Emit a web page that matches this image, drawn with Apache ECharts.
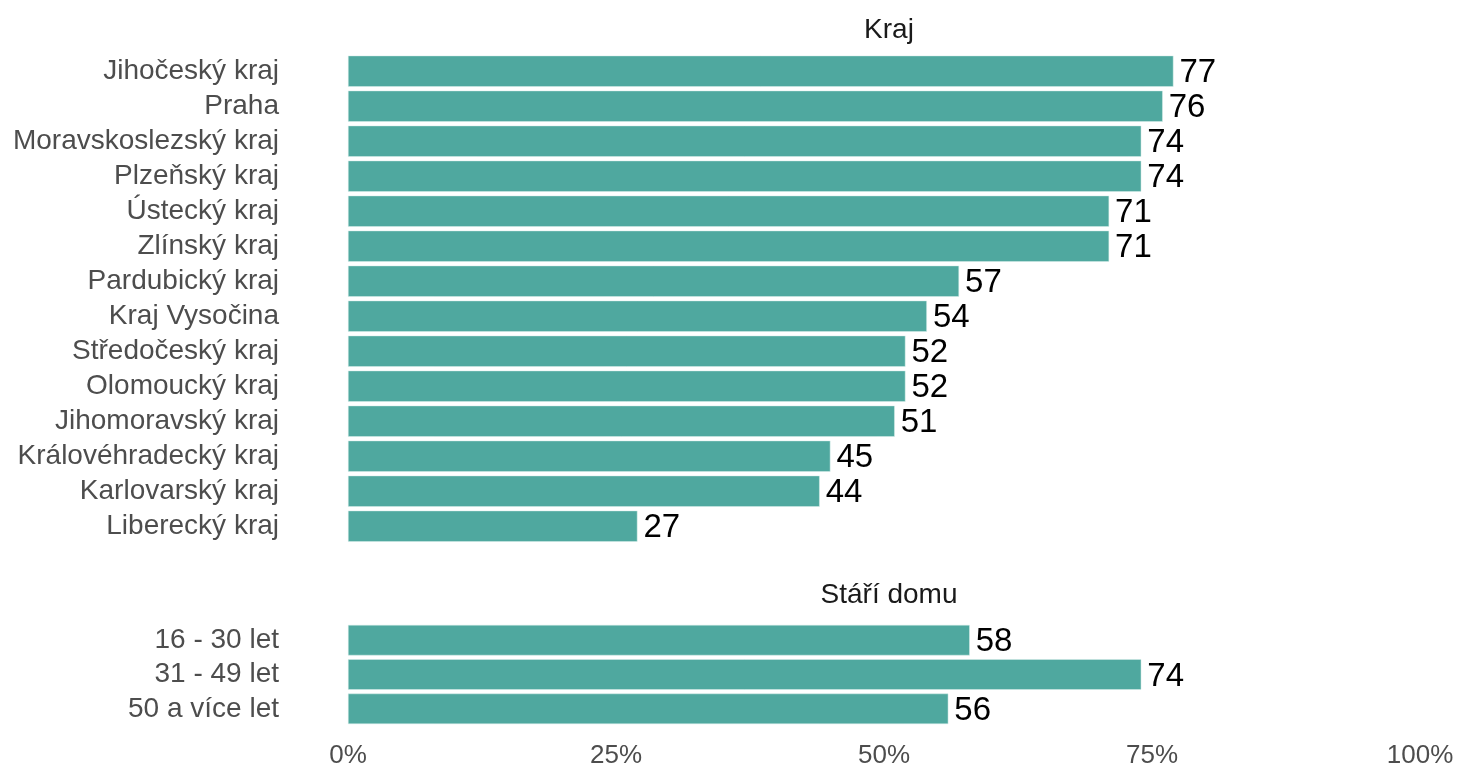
<!DOCTYPE html>
<html><head><meta charset="utf-8">
<script src="https://cdn.jsdelivr.net/npm/echarts@6/dist/echarts.min.js"></script>
<style>html,body{margin:0;padding:0;background:#fff}#c{width:1458px;height:769px}</style>
</head><body><div id="c"></div>
<script>
const krajCategories = ["Jihočeský kraj","Praha","Moravskoslezský kraj","Plzeňský kraj","Ústecký kraj","Zlínský kraj","Pardubický kraj","Kraj Vysočina","Středočeský kraj","Olomoucký kraj","Jihomoravský kraj","Královéhradecký kraj","Karlovarský kraj","Liberecký kraj"];
const krajValues = [77,76,74,74,71,71,57,54,52,52,51,45,44,27];
const stariCategories = ["16 - 30 let","31 - 49 let","50 a více let"];
const stariValues = [58,74,56];
const xTicks = [0,25,50,75,100];
const panelTitles = ["Kraj","Stáří domu"];

const color = '#4fa89f';
const font = '"Liberation Sans", Arial, sans-serif';
const chart = echarts.init(document.getElementById('c'));
const gridL = 348, gridW = 1072;
function yAxis(idx, cats){
  return {type:'category', gridIndex:idx, data:cats, inverse:true,
    axisLine:{show:false}, axisTick:{show:false}, splitLine:{show:false},
    axisLabel:{interval:0, color:'#4d4d4d', fontSize:28, fontFamily:font, margin:69}};
}
function xAxis(idx, showLabels){
  return {type:'value', gridIndex:idx, min:0, max:100, interval:25,
    axisLine:{show:false}, axisTick:{show:false}, splitLine:{show:false},
    axisLabel:{show:showLabels, color:'#4d4d4d', fontSize:26, fontFamily:font, margin:17,
      formatter: v => xTicks.includes(v) ? v + '%' : ''}};
}
function series(idx, vals){
  return {type:'bar', xAxisIndex:idx, yAxisIndex:idx, data:vals, barCategoryGap:'11%',
    itemStyle:{color:color, borderColor:'#d8eeeb', borderWidth:0.5},
    label:{show:true, position:'right', distance:6, color:'#000', fontSize:33, fontFamily:font, offset:[0,2]},
    silent:true, animation:false};
}
chart.setOption({
  animation:false,
  title:[
    {text:panelTitles[0], left:gridL+gridW/2, top:11, textAlign:'center',
      textStyle:{fontSize:28, fontWeight:'normal', color:'#1a1a1a', fontFamily:font}},
    {text:panelTitles[1], left:gridL+gridW/2, top:576, textAlign:'center',
      textStyle:{fontSize:28, fontWeight:'normal', color:'#1a1a1a', fontFamily:font}}
  ],
  grid:[
    {left:gridL, width:gridW, top:53.7, height:490},
    {left:gridL, width:gridW, top:623, height:105}
  ],
  xAxis:[xAxis(0,false), xAxis(1,true)],
  yAxis:[yAxis(0,krajCategories), yAxis(1,stariCategories)],
  series:[series(0,krajValues), series(1,stariValues)]
});
</script></body></html>
